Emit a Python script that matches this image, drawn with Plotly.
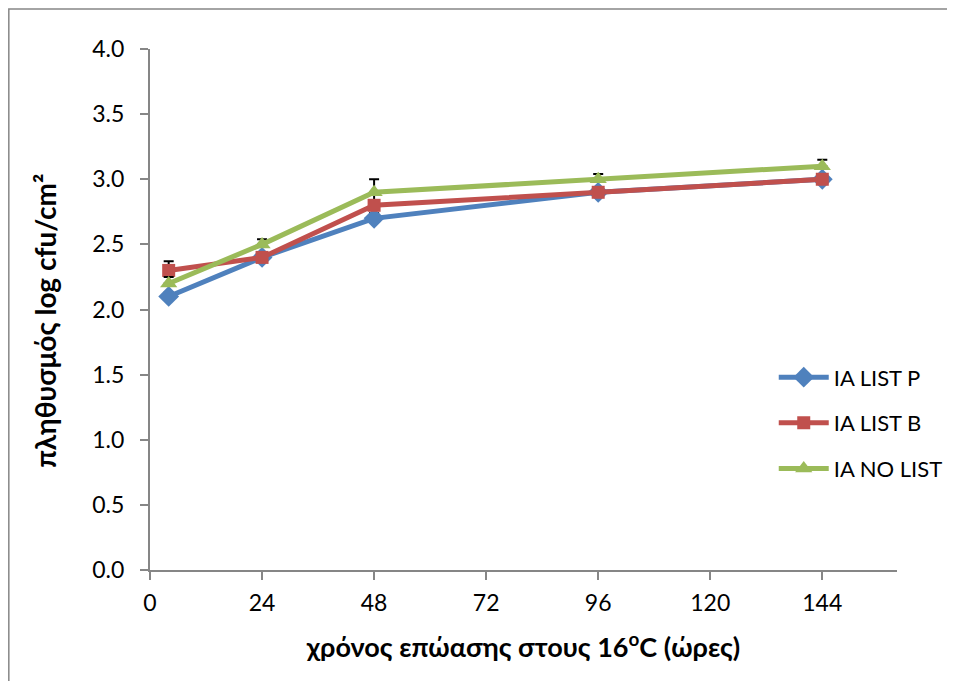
import plotly.graph_objects as go

hours = [4, 24, 48, 96, 144]
list_p = [2.1, 2.4, 2.7, 2.9, 3.0]
list_b = [2.3, 2.4, 2.8, 2.9, 3.0]
no_list = [2.2, 2.5, 2.9, 3.0, 3.1]
err_p = [0.03, 0.03, 0.04, 0.03, 0.03]
err_b = [0.07, 0.03, 0.08, 0.04, 0.03]
err_n = [0.05, 0.04, 0.10, 0.04, 0.05]

series = [
    ("IA LIST P", list_p, err_p, "#4F81BD", "diamond", 16),
    ("IA LIST B", list_b, err_b, "#C0504D", "square", 13),
    ("IA NO LIST", no_list, err_n, "#9BBB59", "triangle-up", 15),
]

fig = go.Figure()
for name, vals, err, col, sym, ms in series:
    fig.add_trace(go.Scatter(
        x=hours, y=vals, name=name, mode="lines+markers",
        line=dict(color=col, width=5),
        marker=dict(symbol=sym, size=ms, color=col),
        error_y=dict(type="data", symmetric=False, array=err,
                     arrayminus=[0] * len(err), color="black",
                     thickness=2, width=5),
        legendgroup=name,
    ))

font = "Lato, 'Open Sans', sans-serif"
axis_common = dict(showgrid=False, zeroline=False, showline=True,
                   linecolor="#868686", linewidth=2, ticks="outside",
                   ticklen=8, tickwidth=2, tickcolor="#868686",
                   tickfont=dict(size=23))
fig.update_layout(
    width=955, height=681,
    margin=dict(l=142, r=66, t=41, b=119),
    paper_bgcolor="white", plot_bgcolor="white",
    font=dict(family=font, size=22, color="black"),
    xaxis=dict(range=[0, 160], tickvals=[0, 24, 48, 72, 96, 120, 144],
               ticklabelstandoff=3,
               title=dict(text="<b>χρόνος επώασης στους 16<sup>o</sup>C (ώρες)</b>",
                          font=dict(size=27), standoff=24),
               **axis_common),
    yaxis=dict(range=[0, 4], tickvals=[0, 0.5, 1, 1.5, 2, 2.5, 3, 3.5, 4],
               tickformat=".1f", ticklabelstandoff=11,
               **axis_common),
    legend=dict(x=0.835, y=0.41, xanchor="left", yanchor="top",
                bgcolor="rgba(0,0,0,0)", font=dict(size=22),
                traceorder="grouped", tracegroupgap=14, itemwidth=50),
    showlegend=True,
)
fig.add_annotation(text="<b>πληθυσμός log cfu/cm²</b>", textangle=-90,
                   xref="paper", yref="paper", x=-0.141, y=0.478,
                   xanchor="center", yanchor="middle", showarrow=False,
                   font=dict(size=28))
fig.add_shape(type="rect", xref="paper", yref="paper",
              x0=-0.189, x1=1.2, y0=-0.4, y1=1.077,
              line=dict(color="#868686", width=1.5), fillcolor="rgba(0,0,0,0)",
              layer="below")
fig.write_html("out.html")
